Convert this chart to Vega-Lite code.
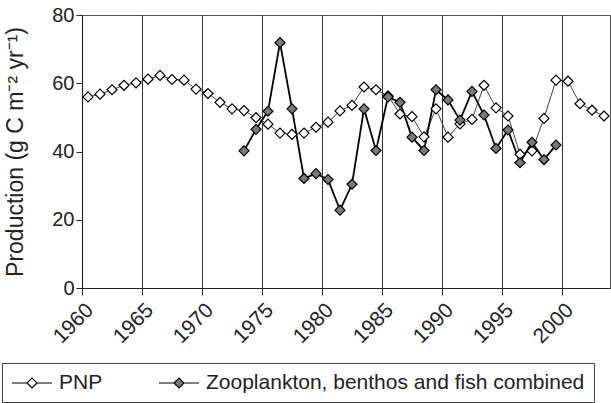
{
  "$schema": "https://vega.github.io/schema/vega-lite/v6.json",
  "width": 528,
  "height": 273,
  "autosize": {"type": "none"},
  "padding": {"left": 82, "top": 15, "right": 1, "bottom": 115},
  "background": "white",
  "config": {
    "font": "Liberation Sans",
    "view": {"stroke": "#555", "strokeWidth": 1},
    "axis": {"labelColor": "#222", "titleColor": "#222", "labelFont": "Liberation Sans", "titleFont": "Liberation Sans"}
  },
  "data": {
    "values": [
      {"year": 1960, "series": "PNP", "value": 56.0},
      {"year": 1961, "series": "PNP", "value": 56.8},
      {"year": 1962, "series": "PNP", "value": 58.1},
      {"year": 1963, "series": "PNP", "value": 59.4},
      {"year": 1964, "series": "PNP", "value": 60.1},
      {"year": 1965, "series": "PNP", "value": 61.2},
      {"year": 1966, "series": "PNP", "value": 62.3},
      {"year": 1967, "series": "PNP", "value": 61.1},
      {"year": 1968, "series": "PNP", "value": 60.9},
      {"year": 1969, "series": "PNP", "value": 58.3},
      {"year": 1970, "series": "PNP", "value": 57.0},
      {"year": 1971, "series": "PNP", "value": 54.4},
      {"year": 1972, "series": "PNP", "value": 52.5},
      {"year": 1973, "series": "PNP", "value": 52.0},
      {"year": 1974, "series": "PNP", "value": 49.9},
      {"year": 1975, "series": "PNP", "value": 48.0},
      {"year": 1976, "series": "PNP", "value": 45.4},
      {"year": 1977, "series": "PNP", "value": 45.0},
      {"year": 1978, "series": "PNP", "value": 45.4},
      {"year": 1979, "series": "PNP", "value": 47.1},
      {"year": 1980, "series": "PNP", "value": 48.6},
      {"year": 1981, "series": "PNP", "value": 51.9},
      {"year": 1982, "series": "PNP", "value": 53.5},
      {"year": 1983, "series": "PNP", "value": 58.9},
      {"year": 1984, "series": "PNP", "value": 58.1},
      {"year": 1985, "series": "PNP", "value": 56.3},
      {"year": 1986, "series": "PNP", "value": 51.0},
      {"year": 1987, "series": "PNP", "value": 50.2},
      {"year": 1988, "series": "PNP", "value": 44.3},
      {"year": 1989, "series": "PNP", "value": 52.5},
      {"year": 1990, "series": "PNP", "value": 44.2},
      {"year": 1991, "series": "PNP", "value": 48.1},
      {"year": 1992, "series": "PNP", "value": 49.4},
      {"year": 1993, "series": "PNP", "value": 59.4},
      {"year": 1994, "series": "PNP", "value": 52.8},
      {"year": 1995, "series": "PNP", "value": 50.4},
      {"year": 1996, "series": "PNP", "value": 39.2},
      {"year": 1997, "series": "PNP", "value": 40.2},
      {"year": 1998, "series": "PNP", "value": 49.7},
      {"year": 1999, "series": "PNP", "value": 60.9},
      {"year": 2000, "series": "PNP", "value": 60.6},
      {"year": 2001, "series": "PNP", "value": 54.0},
      {"year": 2002, "series": "PNP", "value": 52.1},
      {"year": 2003, "series": "PNP", "value": 50.4},
      {"year": 1973, "series": "Zooplankton, benthos and fish combined", "value": 40.2},
      {"year": 1974, "series": "Zooplankton, benthos and fish combined", "value": 46.5},
      {"year": 1975, "series": "Zooplankton, benthos and fish combined", "value": 51.8},
      {"year": 1976, "series": "Zooplankton, benthos and fish combined", "value": 71.9},
      {"year": 1977, "series": "Zooplankton, benthos and fish combined", "value": 52.5},
      {"year": 1978, "series": "Zooplankton, benthos and fish combined", "value": 32.1},
      {"year": 1979, "series": "Zooplankton, benthos and fish combined", "value": 33.5},
      {"year": 1980, "series": "Zooplankton, benthos and fish combined", "value": 31.8},
      {"year": 1981, "series": "Zooplankton, benthos and fish combined", "value": 22.8},
      {"year": 1982, "series": "Zooplankton, benthos and fish combined", "value": 30.4},
      {"year": 1983, "series": "Zooplankton, benthos and fish combined", "value": 52.5},
      {"year": 1984, "series": "Zooplankton, benthos and fish combined", "value": 40.3},
      {"year": 1985, "series": "Zooplankton, benthos and fish combined", "value": 56.0},
      {"year": 1986, "series": "Zooplankton, benthos and fish combined", "value": 54.4},
      {"year": 1987, "series": "Zooplankton, benthos and fish combined", "value": 44.2},
      {"year": 1988, "series": "Zooplankton, benthos and fish combined", "value": 40.3},
      {"year": 1989, "series": "Zooplankton, benthos and fish combined", "value": 58.1},
      {"year": 1990, "series": "Zooplankton, benthos and fish combined", "value": 55.1},
      {"year": 1991, "series": "Zooplankton, benthos and fish combined", "value": 49.2},
      {"year": 1992, "series": "Zooplankton, benthos and fish combined", "value": 57.6},
      {"year": 1993, "series": "Zooplankton, benthos and fish combined", "value": 50.7},
      {"year": 1994, "series": "Zooplankton, benthos and fish combined", "value": 40.9},
      {"year": 1995, "series": "Zooplankton, benthos and fish combined", "value": 46.3},
      {"year": 1996, "series": "Zooplankton, benthos and fish combined", "value": 36.7},
      {"year": 1997, "series": "Zooplankton, benthos and fish combined", "value": 42.7},
      {"year": 1998, "series": "Zooplankton, benthos and fish combined", "value": 37.6},
      {"year": 1999, "series": "Zooplankton, benthos and fish combined", "value": 41.9}
    ]
  },
  "encoding": {
    "x": {
      "field": "year",
      "type": "quantitative",
      "scale": {"domain": [1959.5, 2003.5], "nice": false, "zero": false},
      "axis": {
        "title": null,
        "values": [1959.5, 1964.5, 1969.5, 1974.5, 1979.5, 1984.5, 1989.5, 1994.5, 1999.5],
        "labelExpr": "format(datum.value + 0.5, 'd')",
        "labelAngle": -45,
        "labelFontSize": 21,
        "labelPadding": 4,
        "tickSize": 7,
        "tickColor": "#222",
        "domainColor": "#222",
        "grid": true,
        "gridColor": "#333",
        "gridWidth": 1,
        "labelFlush": false,
        "labelOverlap": false
      }
    },
    "y": {
      "field": "value",
      "type": "quantitative",
      "scale": {"domain": [0, 80], "nice": false},
      "axis": {
        "title": "Production (g C m⁻² yr⁻¹)",
        "titleFontSize": 23,
        "titleFontWeight": "normal",
        "titlePadding": 24,
        "values": [0, 20, 40, 60, 80],
        "labelFontSize": 20,
        "labelPadding": 2,
        "tickSize": 6,
        "tickColor": "#222",
        "domainColor": "#111",
        "grid": false
      }
    }
  },
  "layer": [
    {
      "transform": [{"filter": "datum.series === 'PNP'"}],
      "mark": {"type": "line", "stroke": "#444", "strokeWidth": 1},
      "encoding": {}
    },
    {
      "transform": [{"filter": "datum.series !== 'PNP'"}],
      "mark": {"type": "line", "stroke": "#000", "strokeWidth": 1.8},
      "encoding": {}
    },
    {
      "mark": {"type": "point", "shape": "diamond", "size": 100, "stroke": "#000", "strokeWidth": 1.2, "opacity": 1, "filled": true},
      "encoding": {
        "fill": {
          "field": "series",
          "type": "nominal",
          "scale": {"domain": ["PNP", "Zooplankton, benthos and fish combined"], "range": ["#ffffff", "#7a7a7a"]},
          "legend": {
            "title": null,
            "orient": "none",
            "legendX": -80,
            "legendY": 348,
            "direction": "horizontal",
            "symbolType": "M-1,0H0.5M1.5,0H3M0.5,0L1,-0.5L1.5,0L1,0.5Z",
            "symbolSize": 400,
            "symbolStrokeColor": "#000",
            "symbolStrokeWidth": 1.2,
            "labelFontSize": 21,
            "labelColor": "#222",
            "labelFont": "Liberation Sans",
            "labelOffset": 26,
            "columnPadding": 53,
            "padding": 9,
            "strokeColor": "#444",
            "labelLimit": 500
          }
        }
      }
    }
  ]
}
